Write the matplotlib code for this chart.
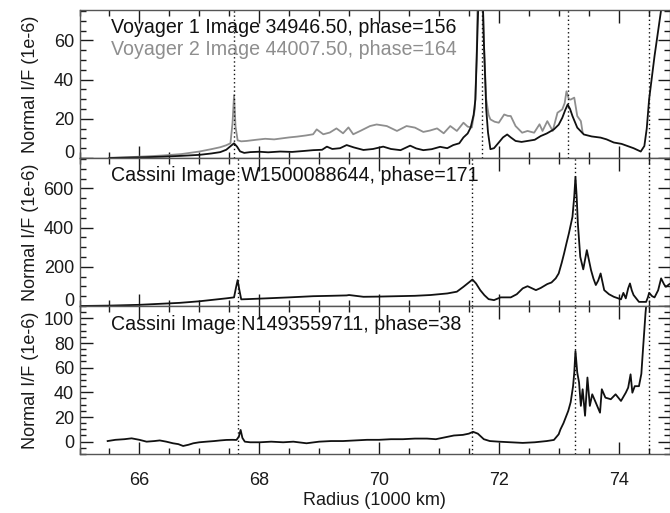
import matplotlib
matplotlib.use("Agg")
import matplotlib.pyplot as plt
from matplotlib.ticker import MultipleLocator
from matplotlib.transforms import ScaledTranslation

plt.rcParams['font.family'] = ['Liberation Sans', 'DejaVu Sans']

# ---------------- data ----------------
v1_r = [65.50, 65.80, 66.10, 66.40, 66.70, 67.00, 67.20, 67.35, 67.45, 67.52, 67.58, 67.63, 67.68, 67.75, 67.85,
        68.00, 68.15, 68.35, 68.55, 68.75, 68.90, 69.05, 69.13, 69.22, 69.35, 69.46, 69.58, 69.74, 69.90, 70.07,
        70.20, 70.36, 70.52, 70.62, 70.74, 70.88, 71.02, 71.14, 71.24, 71.34, 71.41, 71.48, 71.53, 71.58, 71.61,
        71.64, 71.70, 71.75, 71.79, 71.82, 71.86, 71.92, 72.00, 72.07, 72.14, 72.20, 72.28, 72.38, 72.48, 72.60,
        72.70, 72.80, 72.92, 73.00, 73.06, 73.11, 73.15, 73.19, 73.23, 73.31, 73.42, 73.55, 73.70, 73.80, 73.92,
        74.05, 74.15, 74.25, 74.37, 74.43, 74.47, 74.51, 74.60, 74.71, 74.78]
v1_i = [0.0, 0.2, 0.4, 0.7, 1.1, 1.6, 2.3, 3.0, 4.2, 6.0, 7.5, 5.8, 3.4, 2.6, 3.0,
        3.2, 2.9, 3.3, 3.1, 3.6, 4.0, 4.2, 5.8, 4.6, 5.0, 6.6, 5.4, 4.1, 4.6, 5.8,
        4.6, 4.0, 6.3, 4.9, 4.0, 4.5, 5.7, 5.0, 6.6, 7.5, 10.5, 12.5, 15.5, 22.0, 30.0,
        60.0, 120.0, 60.0, 25.0, 13.0, 4.5, 5.0, 7.9, 10.5, 12.0, 10.5, 8.7, 8.2, 8.7, 9.3,
        11.2, 12.5, 14.6, 17.0, 20.5, 24.5, 27.3, 25.0, 21.4, 15.5, 12.0, 11.0, 10.4, 9.5, 7.9,
        7.2, 6.1, 5.0, 3.3, 6.1, 15.0, 30.0, 52.0, 75.5, 90.0]

v2_r = [65.50, 65.80, 66.10, 66.40, 66.70, 67.00, 67.20, 67.35, 67.45, 67.52, 67.555, 67.58, 67.605, 67.64, 67.70,
        67.79, 67.95, 68.10, 68.25, 68.35, 68.50, 68.63, 68.78, 68.90, 68.96, 69.07, 69.18, 69.29, 69.40, 69.49,
        69.57, 69.70, 69.85, 69.96, 70.13, 70.30, 70.46, 70.60, 70.74, 70.85, 70.97, 71.08, 71.19, 71.30, 71.41,
        71.48, 71.55, 71.60, 71.63, 71.66, 71.70, 71.75, 71.79, 71.83, 71.86, 71.93, 72.00, 72.09, 72.15, 72.20,
        72.28, 72.39, 72.48, 72.59, 72.68, 72.73, 72.81, 72.90, 72.98, 73.06, 73.10, 73.13, 73.17, 73.20, 73.26,
        73.31, 73.37, 73.40]
v2_i = [0.1, 0.4, 0.8, 1.3, 2.0, 3.3, 4.5, 5.5, 6.5, 7.5, 18.0, 32.0, 16.0, 9.0, 8.5,
        8.7, 9.3, 9.8, 9.5, 9.9, 10.5, 10.9, 11.5, 12.1, 14.6, 12.1, 13.0, 15.1, 12.6, 15.6,
        12.1, 14.0, 16.3, 17.1, 16.3, 13.8, 16.3, 15.5, 13.3, 14.0, 15.1, 12.6, 16.3, 13.8, 18.0,
        16.0, 15.6, 25.0, 50.0, 110.0, 120.0, 60.0, 30.0, 22.0, 19.7, 18.5, 18.0, 22.2, 21.5, 21.4,
        16.3, 12.9, 13.8, 12.9, 17.2, 13.8, 18.8, 13.8, 23.1, 24.8, 28.0, 34.0, 30.0, 29.8, 30.8,
        21.4, 18.8, 13.0]

cw_r = [65.00, 65.50, 66.00, 66.67, 67.00, 67.45, 67.58, 67.61, 67.64, 67.67, 67.70, 67.80, 68.12, 68.50, 68.90,
        69.20, 69.46, 69.50, 69.74, 70.00, 70.30, 70.60, 70.86, 71.14, 71.30, 71.41, 71.50, 71.56, 71.62, 71.69,
        71.76, 71.83, 71.92, 72.03, 72.20, 72.30, 72.40, 72.48, 72.62, 72.70, 72.81, 72.88, 72.95, 73.00, 73.05,
        73.09, 73.13, 73.17, 73.23, 73.26, 73.28, 73.30, 73.32, 73.36, 73.41, 73.47, 73.54, 73.58, 73.62, 73.66,
        73.70, 73.76, 73.84, 73.92, 74.04, 74.08, 74.12, 74.16, 74.19, 74.22, 74.25, 74.34, 74.46, 74.49, 74.51,
        74.56, 74.60, 74.66, 74.71, 74.76, 74.79, 74.85]
cw_i = [0, 2, 6, 16, 24, 39, 44, 90, 132, 80, 34, 35, 39, 44, 50,
        52, 54, 56, 47, 48, 50, 52, 56, 64, 73, 98, 120, 135, 115, 81,
        55, 35, 30, 44, 44, 60, 90, 101, 81, 92, 112, 120, 141, 166, 220,
        268, 320, 370, 455, 560, 659, 560, 421, 251, 187, 285, 183, 140, 107, 130,
        166, 81, 60, 47, 34, 67, 39, 90, 115, 80, 56, 21, 21, 45, 67,
        50, 44, 80, 141, 110, 98, 112]

cn_r = [65.47, 65.60, 65.75, 65.87, 66.00, 66.12, 66.25, 66.34, 66.45, 66.56, 66.65, 66.73, 66.82, 66.90, 67.00,
        67.12, 67.25, 67.35, 67.45, 67.55, 67.62, 67.66, 67.69, 67.72, 67.76, 67.85, 68.01, 68.20, 68.40, 68.57,
        68.79, 69.00, 69.20, 69.40, 69.60, 69.80, 70.00, 70.20, 70.40, 70.60, 70.80, 70.95, 71.10, 71.25, 71.40,
        71.50, 71.57, 71.65, 71.75, 71.85, 72.00, 72.20, 72.40, 72.60, 72.70, 72.80, 72.92, 73.00, 73.03, 73.08,
        73.12, 73.16, 73.20, 73.24, 73.26, 73.28, 73.31, 73.34, 73.37, 73.40, 73.44, 73.48, 73.52, 73.56, 73.62,
        73.69, 73.72, 73.78, 73.87, 73.95, 74.04, 74.12, 74.16, 74.20, 74.23, 74.27, 74.34, 74.38, 74.40, 74.45,
        74.49]
cn_i = [0.5, 1.5, 2.0, 2.7, 1.5, 0.0, 0.5, 1.0, 0.0, -1.3, -2.0, -3.5, -2.5, -1.3, -0.5,
        0.0, 0.5, 1.0, 1.4, 1.5, 1.4, 4.0, 9.5, 3.0, 0.0, -0.5, -0.5, 0.0, -0.5, 0.0,
        -1.3, 0.0, 0.5, 0.5, 1.0, 1.5, 1.5, 2.0, 2.0, 2.5, 2.5, 2.0, 3.5, 5.0, 5.5,
        6.5, 8.0, 6.5, 2.0, 0.5, 0.0, -0.5, -1.0, -0.5, 0.0, 0.5, 1.4, 6.0, 10.0, 15.0,
        20.0, 25.0, 32.0, 45.0, 56.0, 73.5, 56.0, 48.0, 29.0, 42.5, 21.0, 52.0, 29.0, 38.4, 31.6,
        23.5, 42.5, 35.7, 34.4, 38.4, 33.0, 39.7, 43.8, 54.6, 39.7, 45.0, 45.0, 55.0, 69.5, 104.6,
        125.0]

res_voyager = [67.58, 71.72, 73.15, 74.50]
res_cassini = [67.64, 71.56, 73.27, 74.50]

labels = ["Voyager 1 Image 34946.50, phase=156",
          "Voyager 2 Image 44007.50, phase=164",
          "Cassini Image W1500088644, phase=171",
          "Cassini Image N1493559711, phase=38"]

assert len(v1_r) == len(v1_i) and len(v2_r) == len(v2_i)
assert len(cw_r) == len(cw_i) and len(cn_r) == len(cn_i)

# ---------------- figure ----------------
W, H = 670, 513
fig = plt.figure(figsize=(W / 100, H / 100), dpi=100)
left = 79.5 / W
right = 669.5 / W
tops = [10, 158, 306]
ph = 148
axes = []
for t in tops:
    ax = fig.add_axes([left, 1 - (t + ph) / H, right - left, ph / H])
    axes.append(ax)

BLACK = '#111111'
GRAY = '#8e8e8e'
FS = 14.1
LFS = 13
TFS = 13

ax1, ax2, ax3 = axes
ax1.plot(v2_r, v2_i, color=GRAY, lw=1.3)
ax1.plot(v1_r, v1_i, color=BLACK, lw=1.3)
ax2.plot(cw_r, cw_i, color=BLACK, lw=1.3)
ax3.plot(cn_r, cn_i, color=BLACK, lw=1.3)

ax1.set_ylim(0, 75.5)
ax2.set_ylim(0, 755)
ax3.set_ylim(-10, 110)

ax1.yaxis.set_major_locator(MultipleLocator(20))
ax1.yaxis.set_minor_locator(MultipleLocator(5))
ax2.yaxis.set_major_locator(MultipleLocator(200))
ax2.yaxis.set_minor_locator(MultipleLocator(50))
ax3.yaxis.set_major_locator(MultipleLocator(20))
ax3.yaxis.set_minor_locator(MultipleLocator(5))

for ax, res in zip(axes, [res_voyager, res_cassini, res_cassini]):
    ax.set_xlim(65.0, 74.85)
    for r in res:
        ax.axvline(r, color=BLACK, ls=(0, (1, 2)), lw=1.0)
    ax.xaxis.set_major_locator(MultipleLocator(2))
    ax.xaxis.set_minor_locator(MultipleLocator(0.5))
    ax.tick_params(which='both', direction='in', top=True, right=True, labelsize=TFS, colors='#1a1a1a')
    ax.tick_params(which='major', length=9, width=1.0)
    ax.tick_params(which='minor', length=4.5, width=1.0)
    ax.tick_params(axis='y', pad=4)
    ax.tick_params(axis='x', pad=13)
    ax.set_ylabel("Normal I/F (1e-6)", fontsize=LFS, color='#1a1a1a')
    ax.yaxis.set_label_coords(-0.068, 0.5)
    for s in ax.spines.values():
        s.set_linewidth(1.0)
        s.set_color('#555555')
    if ax is not ax3:
        ax.tick_params(labelbottom=False)

ax1.text(0.053, 0.885, labels[0], transform=ax1.transAxes, fontsize=FS, color=BLACK, va='center')
ax1.text(0.053, 0.73, labels[1], transform=ax1.transAxes, fontsize=FS, color=GRAY, va='center')
ax2.text(0.053, 0.885, labels[2], transform=ax2.transAxes, fontsize=FS, color=BLACK, va='center')
ax3.text(0.053, 0.875, labels[3], transform=ax3.transAxes, fontsize=FS, color=BLACK, va='center')

ax3.set_xlabel("Radius (1000 km)", fontsize=LFS, color='#1a1a1a', labelpad=2)

# nudge zero labels of upper panels up, as in the original
fig.canvas.draw()
for ax in (ax1, ax2):
    for lab, val in zip(ax.get_yticklabels(), ax.get_yticks()):
        if val == 0:
            lab.set_transform(lab.get_transform() + ScaledTranslation(0, 5 / 72, fig.dpi_scale_trans))

fig.savefig("out.png", dpi=100)
